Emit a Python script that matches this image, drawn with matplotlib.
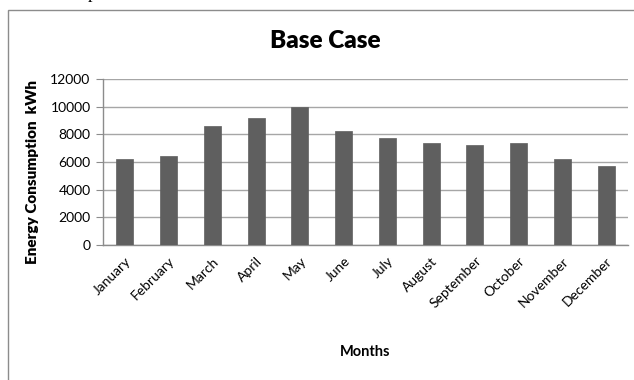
import matplotlib
matplotlib.use("Agg")
import matplotlib.pyplot as plt
from matplotlib.patches import Rectangle

# Monthly energy consumption for the base case (kWh)
months = ["January", "February", "March", "April", "May", "June",
          "July", "August", "September", "October", "November", "December"]
consumption = [6200, 6400, 8600, 9200, 9950, 8250,
               7750, 7350, 7250, 7350, 6200, 5700]
y_ticks = [0, 2000, 4000, 6000, 8000, 10000, 12000]

W, H = 634, 380
FONT = "Lato"

fig = plt.figure(figsize=(W / 100, H / 100), dpi=100)

# chart frame (extends past the right and bottom edges)
fig.patches.append(Rectangle((7.5 / W, -0.2), 1.2, 1 - 9.5 / H + 0.2,
                             transform=fig.transFigure, fill=False,
                             edgecolor="#8c8c8c", linewidth=1.0))
# descender of a line of text above the frame
fig.text(88 / W, 1 + 1.5 / H, "p", fontsize=13, family="Liberation Serif",
         va="baseline", ha="left", color="black")

ax = fig.add_axes([103 / W, 1 - 245 / H, (628 - 103) / W, (245 - 79) / H])
x = range(len(months))
ax.bar(x, consumption, width=0.39, color="#5f5f5f", edgecolor="#5f5f5f",
       linewidth=0.5, zorder=3)

ax.set_ylim(0, 12000)
ax.set_xlim(-0.5, len(months) - 0.5)
ax.set_yticks(y_ticks)
ax.set_yticklabels([str(v) for v in y_ticks], family=FONT, fontsize=10)
ax.set_xticks(list(x))
ax.set_xticklabels(months, rotation=45, ha="right", va="top",
                   rotation_mode="anchor", family=FONT, fontsize=10)
ax.tick_params(axis="x", length=0, pad=7)
ax.tick_params(axis="y", length=5, width=0.8, color="#8c8c8c", pad=4)

ax.grid(axis="y", color="#a6a6a6", linewidth=1.0, zorder=0)
for s in ("top", "right"):
    ax.spines[s].set_visible(False)
for s in ("left", "bottom"):
    ax.spines[s].set_color("#8c8c8c")
    ax.spines[s].set_linewidth(1.0)

fig.text(325 / W, 1 - 41 / H, "Base Case", family=FONT, fontweight="heavy",
         fontsize=17.5, ha="center", va="center")
fig.text(365 / W, 1 - 352 / H, "Months", family=FONT, fontweight="bold",
         fontsize=10.5, ha="center", va="center")
fig.text(33 / W, 1 - 172 / H, "Energy Consumption  kWh", family=FONT,
         fontweight="heavy", fontsize=11, rotation=90, ha="center", va="center")

fig.savefig("out.png", dpi=100)
